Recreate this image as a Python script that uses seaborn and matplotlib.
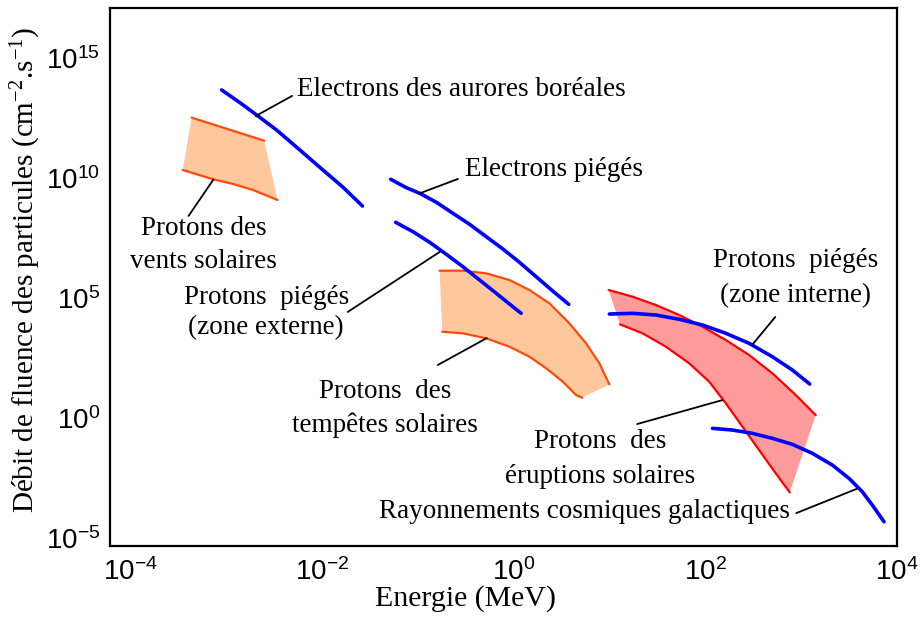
import numpy as np
import matplotlib
matplotlib.use('Agg')
import matplotlib.pyplot as plt
from matplotlib.ticker import FixedLocator, FuncFormatter
import seaborn as sns

# all values are log10 (energy in MeV, fluence rate in cm-2.s-1)
# electrons des aurores boreales
aur_x = [-3.045, -2.854, -2.680, -2.472, -2.229, -2.021, -1.778, -1.576]
aur_y = [13.667, 13.138, 12.625, 12.0, 11.167, 10.446, 9.613, 8.833]

# electrons pieges
ep_x = [-1.281, -1.118, -0.979, -0.805, -0.632, -0.458, -0.284, -0.111, 0.062, 0.236, 0.409, 0.576]
ep_y = [9.946, 9.596, 9.363, 8.988, 8.529, 8.071, 7.554, 7.042, 6.488, 5.888, 5.292, 4.738]

# protons pieges, zone externe
ppe_x = [-1.229, -1.049, -0.875, -0.701, -0.528, -0.354, -0.180, -0.007, 0.080]
ppe_y = [8.154, 7.763, 7.321, 6.821, 6.304, 5.75, 5.196, 4.638, 4.363]

# protons pieges, zone interne
ppi_x = [1.0, 1.243, 1.486, 1.729, 1.972, 2.215, 2.458, 2.701, 2.909, 3.090]
ppi_y = [4.333, 4.363, 4.292, 4.113, 3.875, 3.529, 3.113, 2.554, 2.0, 1.417]

# rayonnements cosmiques galactiques
rcg_x = [2.076, 2.284, 2.493, 2.701, 2.909, 3.118, 3.326, 3.5, 3.639, 3.743, 3.865]
rcg_y = [-0.429, -0.5, -0.638, -0.846, -1.096, -1.471, -1.958, -2.513, -3.071, -3.625, -4.321]

# protons des vents solaires (band)
vent_top_x = [-3.357, -2.601]
vent_top_y = [12.513, 11.554]
vent_bot_x = [-3.451, -3.305, -3.132, -2.924, -2.716, -2.461]
vent_bot_y = [10.333, 10.154, 9.946, 9.75, 9.5, 9.083]

# protons des tempetes solaires (band)
temp_top_x = [-0.771, -0.528, -0.284, -0.042, 0.167, 0.375, 0.583, 0.757, 0.896, 1.0]
temp_top_y = [6.138, 6.138, 6.029, 5.75, 5.333, 4.779, 3.946, 3.113, 2.279, 1.404]
temp_bot_x = [-0.743, -0.528, -0.284, -0.042, 0.167, 0.341, 0.514, 0.653, 0.716]
temp_bot_y = [3.596, 3.529, 3.321, 2.971, 2.554, 2.071, 1.513, 0.958, 0.846]

# protons des eruptions solaires (band)
erup_top_x = [0.993, 1.243, 1.486, 1.729, 1.972, 2.215, 2.458, 2.701, 2.945, 3.153]
erup_top_y = [5.333, 5.054, 4.708, 4.292, 3.804, 3.25, 2.625, 1.863, 0.958, 0.125]
erup_bot_x = [1.111, 1.347, 1.590, 1.833, 2.042, 2.215, 2.389, 2.562, 2.736, 2.882]
erup_bot_y = [3.904, 3.529, 2.971, 2.279, 1.513, 0.613, -0.363, -1.333, -2.304, -3.096]

xtick_exp = [-4, -2, 0, 2, 4]
ytick_exp = [-5, 0, 5, 10, 15]

sns.set_style('white')
plt.rcParams['font.family'] = ['Liberation Serif', 'DejaVu Serif']
plt.rcParams['text.color'] = 'black'
plt.rcParams['axes.labelcolor'] = 'black'

fig = plt.figure(figsize=(9.21, 6.18), dpi=100)
ax = fig.add_axes([0.1194, 0.1165, 0.8545, 0.8705])
ax.set_xscale('log')
ax.set_yscale('log')

def p(v):
    return 10 ** np.asarray(v, dtype=float)

# bands
bands = [
    (vent_top_x, vent_top_y, vent_bot_x, vent_bot_y, '#ffc89c', '#ff4a0a'),
    (temp_top_x, temp_top_y, temp_bot_x, temp_bot_y, '#ffc89c', '#ff4a0a'),
    (erup_top_x, erup_top_y, erup_bot_x, erup_bot_y, '#ff9b9b', '#ff0000'),
]
for tx, ty, bx, by, fc, ec in bands:
    ax.fill(np.r_[p(tx), p(bx)[::-1]], np.r_[p(ty), p(by)[::-1]],
            facecolor=fc, edgecolor='none', zorder=1)
    sns.lineplot(x=p(tx), y=p(ty), ax=ax, color=ec, lw=1.6, sort=False, zorder=2)
    sns.lineplot(x=p(bx), y=p(by), ax=ax, color=ec, lw=1.6, sort=False, zorder=2)

# spectra
for xs, ys in [(aur_x, aur_y), (ep_x, ep_y), (ppe_x, ppe_y), (ppi_x, ppi_y), (rcg_x, rcg_y)]:
    sns.lineplot(x=p(xs), y=p(ys), ax=ax, color='#0000ff', lw=2.6, sort=False, zorder=3)

# labels: (lines, x, baselines, ha) and leader line (from curve, to label)
labels = [
    (['Electrons des aurores boréales'], -2.26, [13.42], 'left', (-2.69, 12.58), (-2.31, 13.42)),
    (['Electrons piégés'], -0.51, [10.08], 'left', (-0.98, 9.36), (-0.58, 9.96)),
    (['Protons des', 'vents solaires'], -3.23, [7.62, 6.25], 'center', (-3.13, 9.94), (-3.39, 8.42)),
    (['Protons  piégés', '(zone externe)'], -2.58, [4.75, 3.5], 'center', (-0.77, 6.92), (-1.73, 4.42)),
    (['Protons  des', 'tempêtes solaires'], -1.34, [0.83, -0.58], 'center', (-0.28, 3.33), (-0.79, 2.21)),
    (['Protons  piégés', '(zone interne)'], 2.94, [6.29, 4.83], 'center', (2.49, 3.05), (2.73, 4.21)),
    (['Protons  des', 'éruptions solaires'], 0.90, [-1.25, -2.71], 'center', (2.18, 0.75), (1.29, -0.25)),
    (['Rayonnements cosmiques galactiques'], 2.885, [-4.17], 'right', (3.58, -2.95), (2.95, -3.96)),
]
for lines, lx, bases, ha, a, b in labels:
    for txt, by in zip(lines, bases):
        ax.text(10 ** lx, 10 ** by, txt, ha=ha, va='baseline', fontsize=19.5, zorder=4)
    ax.annotate('', xy=(10 ** a[0], 10 ** a[1]), xytext=(10 ** b[0], 10 ** b[1]),
                arrowprops=dict(arrowstyle='-', color='black', lw=1.3, shrinkA=0, shrinkB=0))

ax.set_xlim(10 ** -4.21, 10 ** 4.0)
ax.set_ylim(10 ** -5.33, 10 ** 17.08)

ax.xaxis.set_major_locator(FixedLocator(p(xtick_exp)))
ax.yaxis.set_major_locator(FixedLocator(p(ytick_exp)))
ax.xaxis.set_minor_locator(FixedLocator([]))
ax.yaxis.set_minor_locator(FixedLocator([]))
fmt = FuncFormatter(lambda v, pos: r'$\mathregular{10^{%d}}$' % round(np.log10(v)))
ax.xaxis.set_major_formatter(fmt)
ax.yaxis.set_major_formatter(fmt)
ax.tick_params(direction='in', length=12, width=1.5, labelsize=20, colors='black')
ax.tick_params(axis='x', pad=9)
ax.tick_params(axis='y', pad=7)
for lab in ax.get_xticklabels() + ax.get_yticklabels():
    lab.set_fontfamily('Liberation Sans')
# no tick marks at the axis ends
for t, e in zip(ax.xaxis.get_major_ticks(), xtick_exp):
    if abs(e) == 4:
        t.tick1line.set_visible(False)
for t, e in zip(ax.yaxis.get_major_ticks(), ytick_exp):
    if e == -5:
        t.tick1line.set_visible(False)

for s in ax.spines.values():
    s.set_color('black')
    s.set_linewidth(1.6)

ax.set_xlabel('Energie (MeV)', fontsize=21.5)
ax.xaxis.set_label_coords(0.452, -0.072)
ax.set_ylabel(r'Débit de fluence des particules (cm$\mathregular{^{-2}}$.s$\mathregular{^{-1}}$)', fontsize=21)
ax.yaxis.set_label_coords(-0.085, 0.513)

fig.savefig('out.png', dpi=100)
